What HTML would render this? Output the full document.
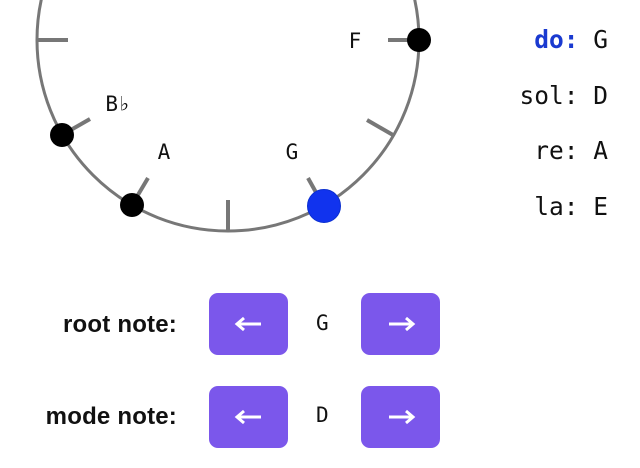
<!DOCTYPE html>
<html><head><style>
body{margin:0;width:640px;height:468px;background:#fff;overflow:hidden;position:relative;font-family:"DejaVu Sans Mono","Liberation Mono",monospace}
.lab{position:absolute;right:463px;font:bold 24px "Liberation Sans",sans-serif;color:#111;letter-spacing:0.2px}
.btn{position:absolute;width:79px;height:62px;background:#7b57eb;border-radius:9px}
.btn svg{position:absolute;left:25px;top:22px}
.val{position:absolute;left:316px;font-size:21px;color:#111}
.r{position:absolute;right:32px;font-size:24.5px;color:#111;white-space:pre}
</style></head><body>
<svg width="640" height="468" style="position:absolute;left:0;top:0">
<g stroke="#777" fill="none">
<circle cx="228" cy="40" r="191" stroke-width="3"/>
<g stroke-width="4">
<line x1="37" y1="40" x2="68" y2="40"/>
<line x1="228" y1="231" x2="228" y2="200"/>
<line x1="393" y1="135" x2="367" y2="120"/>
<line x1="419" y1="40" x2="388" y2="40"/>
<line x1="323" y1="205" x2="308" y2="178"/>
<line x1="132" y1="205" x2="148" y2="178"/>
<line x1="62" y1="135" x2="90" y2="119"/>
</g></g>
<circle cx="419" cy="40" r="12" fill="#000"/>
<circle cx="132" cy="205" r="12" fill="#000"/>
<circle cx="62" cy="135" r="12" fill="#000"/>
<circle cx="324" cy="206" r="16.5" fill="#1133ee" stroke="#0a2fd0"/>
<g font-family="DejaVu Sans Mono, monospace" font-size="21" fill="#111" text-anchor="middle">
<text x="355" y="48">F</text>
<text x="292" y="159">G</text>
<text x="164" y="159">A</text>
<text x="118" y="111">B♭</text>
</g>
</svg>
<div class="r" style="top:25px"><b style="color:#1a3ad0">do:</b> G</div>
<div class="r" style="top:81px">sol: D</div>
<div class="r" style="top:136px">re: A</div>
<div class="r" style="top:192px">la: E</div>
<div class="lab" style="top:311px">root note:</div>
<div class="lab" style="top:403px">mode note:</div>
<div class="btn" style="left:209px;top:293px"><svg width="30" height="18"><path d="M4 9H27M10 3L3 9L10 15" stroke="#fff" stroke-width="3" fill="none"/></svg></div>
<div class="val" style="top:311px">G</div>
<div class="btn" style="left:361px;top:293px"><svg width="30" height="18"><path d="M3 9H26M20 3L27 9L20 15" stroke="#fff" stroke-width="3" fill="none"/></svg></div>
<div class="btn" style="left:209px;top:386px"><svg width="30" height="18"><path d="M4 9H27M10 3L3 9L10 15" stroke="#fff" stroke-width="3" fill="none"/></svg></div>
<div class="val" style="top:403px">D</div>
<div class="btn" style="left:361px;top:386px"><svg width="30" height="18"><path d="M3 9H26M20 3L27 9L20 15" stroke="#fff" stroke-width="3" fill="none"/></svg></div>
</body></html>
